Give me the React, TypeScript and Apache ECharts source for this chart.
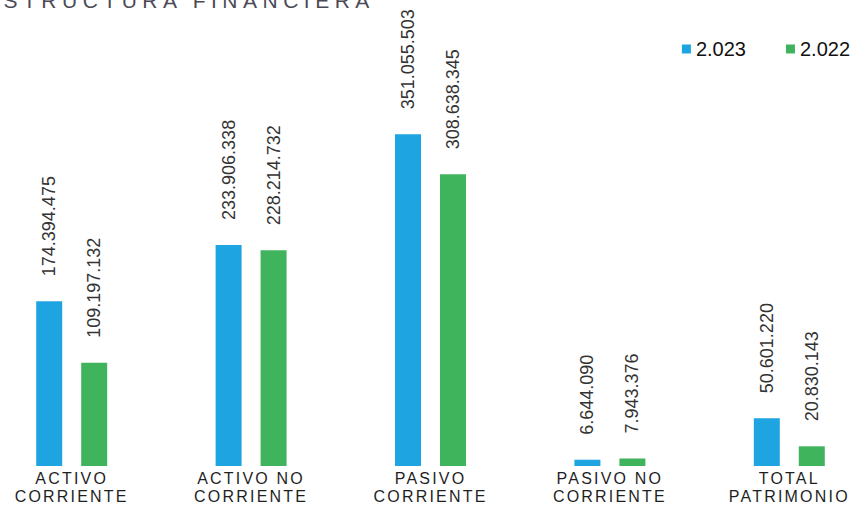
import React, { useEffect, useRef } from "react";
import * as echarts from "echarts";

const titleText = "ESTRUCTURA FINANCIERA";
const categories = [
  "ACTIVO\nCORRIENTE",
  "ACTIVO NO\nCORRIENTE",
  "PASIVO\nCORRIENTE",
  "PASIVO NO\nCORRIENTE",
  "TOTAL\nPATRIMONIO",
];
const seriesNames = ["2.023", "2.022"];
const values2023 = [174394475, 233906338, 351055503, 6644090, 50601220];
const values2022 = [109197132, 228214732, 308638345, 7943376, 20830143];

const fmt = (v: number) =>
  Math.round(v)
    .toString()
    .replace(/\B(?=(\d{3})+(?!\d))/g, ".");

export default function App() {
  const ref = useRef<HTMLDivElement>(null);
  useEffect(() => {
    if (!ref.current) return;
    const chart = echarts.init(ref.current, undefined, { renderer: "svg" });
    const label = {
      show: true,
      position: "top",
      rotate: 90,
      align: "left",
      verticalAlign: "middle",
      distance: 25,
      fontSize: 18,
      fontFamily: "Liberation Sans",
      color: "#333333",
      formatter: (p: any) => fmt(p.value),
    };
    chart.setOption({
      animation: false,
      backgroundColor: "#ffffff",
      graphic: [
        {
          type: "text",
          left: 2,
          top: -10,
          style: {
            text: titleText,
            fontSize: 21,
            fontFamily: "Liberation Sans",
            fill: "#4a4a55",
          },
        },
      ],
      legend: {
        right: 24,
        top: 34,
        itemWidth: 9,
        itemHeight: 9,
        itemGap: 40,
        icon: "rect",
        textStyle: { fontSize: 20, fontFamily: "Liberation Sans", color: "#111111" },
        data: seriesNames,
      },
      grid: { left: 0, right: 0, top: 88, bottom: 44 },
      xAxis: {
        type: "category",
        data: categories,
        axisLine: { show: false },
        axisTick: { show: false },
        axisLabel: {
          interval: 0,
          margin: 3,
          fontSize: 16,
          lineHeight: 18,
          fontFamily: "Liberation Sans",
          color: "#1f1f1f",
        },
      },
      yAxis: {
        type: "value",
        min: 0,
        max: 400000000,
        show: false,
        splitLine: { show: false },
      },
      series: [
        {
          name: seriesNames[0],
          type: "bar",
          data: values2023,
          barWidth: 26,
          barGap: "73%",
          itemStyle: { color: "#1ea4e0" },
          label,
        },
        {
          name: seriesNames[1],
          type: "bar",
          data: values2022,
          barWidth: 26,
          itemStyle: { color: "#40b45c" },
          label,
        },
      ],
    });
    return () => chart.dispose();
  }, []);
  return (
    <>
      <style>{`.chart text[fill="#1f1f1f"]{letter-spacing:2.2px} .chart text[fill="#4a4a55"]{letter-spacing:5.5px}`}</style>
      <div
        style={{
          position: "absolute",
          left: 0,
          top: 0,
          width: 853,
          height: 510,
          overflow: "hidden",
          background: "#ffffff",
        }}
      >
        <div
          ref={ref}
          className="chart"
          style={{ position: "absolute", left: -18, top: 0, width: 897, height: 510 }}
        />
      </div>
    </>
  );
}
